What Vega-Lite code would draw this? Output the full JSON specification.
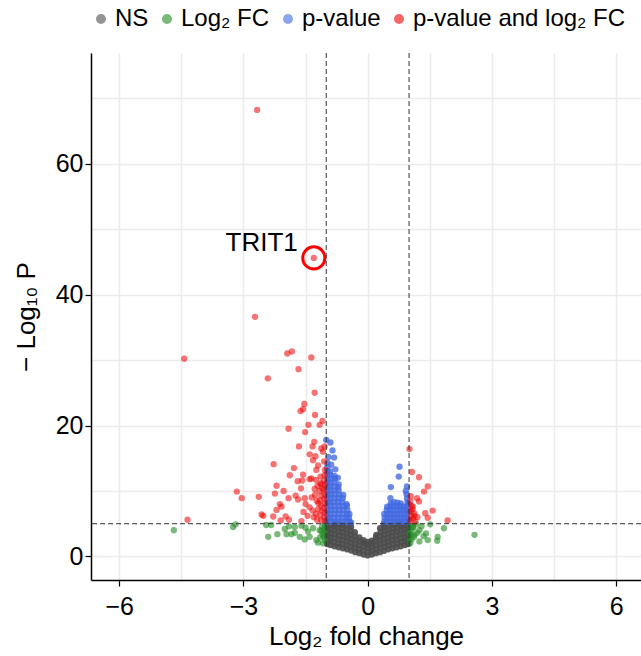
{
"$schema": "https://vega.github.io/schema/vega-lite/v6.json",
"width": 550, "height": 527,
"autosize": "none",
"padding": {"left": 91, "top": 53, "right": 0, "bottom": 76},
"config": {"font": "Liberation Sans", "view": {"stroke": null},
 "axis": {"domainColor": "black", "domainWidth": 1.5, "tickColor": "black", "tickWidth": 1.2, "tickSize": 6, "labelFontSize": 25, "labelColor": "black", "titleFontSize": 26, "titleFontWeight": "normal", "titleColor": "black", "gridColor": "#EBEBEB", "gridWidth": 1.5}},
"datasets": {
"ns": [
{"x":-0.98,"y":1.9},{"x":-0.97,"y":2.5},{"x":-0.98,"y":3.1},{"x":-0.97,"y":3.7},{"x":-0.98,"y":4.3},{"x":-0.97,"y":4.85},
{"x":-0.9,"y":1.75},{"x":-0.91,"y":2.35},{"x":-0.9,"y":2.95},{"x":-0.89,"y":3.55},{"x":-0.9,"y":4.15},{"x":-0.91,"y":4.75},
{"x":-0.8,"y":1.55},{"x":-0.81,"y":2.2},{"x":-0.8,"y":2.8},{"x":-0.79,"y":3.4},{"x":-0.8,"y":4.0},{"x":-0.81,"y":4.6},{"x":-0.8,"y":4.95},
{"x":-0.7,"y":1.4},{"x":-0.71,"y":2.0},{"x":-0.7,"y":2.6},{"x":-0.69,"y":3.2},{"x":-0.7,"y":3.8},{"x":-0.71,"y":4.4},{"x":-0.7,"y":4.9},
{"x":-0.6,"y":1.25},{"x":-0.61,"y":1.9},{"x":-0.6,"y":2.5},{"x":-0.59,"y":3.1},{"x":-0.6,"y":3.7},{"x":-0.61,"y":4.3},{"x":-0.6,"y":4.85},
{"x":-0.5,"y":1.1},{"x":-0.51,"y":1.7},{"x":-0.5,"y":2.3},{"x":-0.49,"y":2.9},{"x":-0.5,"y":3.5},{"x":-0.51,"y":4.1},{"x":-0.5,"y":4.7},
{"x":-0.4,"y":0.9},{"x":-0.41,"y":1.5},{"x":-0.4,"y":2.1},{"x":-0.39,"y":2.7},{"x":-0.4,"y":3.3},{"x":-0.41,"y":3.9},{"x":-0.4,"y":4.5},{"x":-0.42,"y":4.9},
{"x":-0.3,"y":0.65},{"x":-0.31,"y":1.3},{"x":-0.3,"y":1.9},{"x":-0.29,"y":2.5},{"x":-0.3,"y":3.1},{"x":-0.31,"y":3.7},
{"x":-0.2,"y":0.5},{"x":-0.21,"y":1.1},{"x":-0.2,"y":1.7},{"x":-0.19,"y":2.3},{"x":-0.2,"y":2.9},
{"x":-0.1,"y":0.3},{"x":-0.11,"y":0.9},{"x":-0.1,"y":1.5},{"x":-0.09,"y":2.1},{"x":-0.1,"y":2.5},
{"x":0,"y":0.15},{"x":0.01,"y":0.7},{"x":0,"y":1.3},{"x":-0.01,"y":1.8},{"x":0,"y":2.2},
{"x":0.1,"y":0.3},{"x":0.11,"y":0.9},{"x":0.1,"y":1.5},{"x":0.09,"y":2.0},{"x":0.1,"y":2.4},
{"x":0.2,"y":0.5},{"x":0.21,"y":1.1},{"x":0.2,"y":1.7},{"x":0.19,"y":2.3},{"x":0.2,"y":2.9},{"x":0.21,"y":3.3},
{"x":0.3,"y":0.65},{"x":0.31,"y":1.3},{"x":0.3,"y":1.9},{"x":0.29,"y":2.5},{"x":0.3,"y":3.1},{"x":0.31,"y":3.7},{"x":0.3,"y":4.3},
{"x":0.4,"y":0.85},{"x":0.41,"y":1.5},{"x":0.4,"y":2.1},{"x":0.39,"y":2.7},{"x":0.4,"y":3.3},{"x":0.41,"y":3.9},{"x":0.4,"y":4.5},{"x":0.39,"y":4.9},
{"x":0.5,"y":1.1},{"x":0.51,"y":1.7},{"x":0.5,"y":2.3},{"x":0.49,"y":2.9},{"x":0.5,"y":3.5},{"x":0.51,"y":4.1},{"x":0.5,"y":4.7},
{"x":0.6,"y":1.25},{"x":0.61,"y":1.9},{"x":0.6,"y":2.5},{"x":0.59,"y":3.1},{"x":0.6,"y":3.7},{"x":0.61,"y":4.3},{"x":0.6,"y":4.85},
{"x":0.7,"y":1.4},{"x":0.71,"y":2.0},{"x":0.7,"y":2.6},{"x":0.69,"y":3.2},{"x":0.7,"y":3.8},{"x":0.71,"y":4.4},{"x":0.7,"y":4.9},
{"x":0.8,"y":1.55},{"x":0.81,"y":2.2},{"x":0.8,"y":2.8},{"x":0.79,"y":3.4},{"x":0.8,"y":4.0},{"x":0.81,"y":4.6},{"x":0.8,"y":4.95},
{"x":0.9,"y":1.75},{"x":0.91,"y":2.35},{"x":0.9,"y":2.95},{"x":0.89,"y":3.55},{"x":0.9,"y":4.15},{"x":0.91,"y":4.75},
{"x":0.98,"y":1.9},{"x":0.97,"y":2.5},{"x":0.98,"y":3.1},{"x":0.97,"y":3.7},{"x":0.98,"y":4.3},{"x":0.97,"y":4.85}
],
"fc": [
{"x":-4.68,"y":4.0},{"x":-3.25,"y":4.5},{"x":-3.19,"y":4.9},{"x":-2.40,"y":3.0},{"x":-2.18,"y":3.4},{"x":-2.45,"y":4.8},{"x":-2.33,"y":4.8},{"x":-1.96,"y":3.4},{"x":-1.84,"y":3.4},{"x":-1.76,"y":3.6},{"x":-1.64,"y":3.0},{"x":-1.52,"y":2.6},{"x":-1.40,"y":3.0},{"x":-1.24,"y":2.5},{"x":-1.20,"y":2.1},{"x":-1.16,"y":4.0},{"x":-1.60,"y":4.7},{"x":-1.32,"y":4.3},{"x":-1.09,"y":3.3},{"x":-1.44,"y":3.8},{"x":-1.76,"y":4.5},{"x":-1.03,"y":4.8},{"x":-1.05,"y":4.2},{"x":-1.04,"y":3.6},{"x":-1.06,"y":3.0},{"x":-1.03,"y":2.4},{"x":-1.10,"y":4.6},{"x":-1.12,"y":3.9},{"x":-1.15,"y":2.9},{"x":-1.08,"y":2.0},{"x":-1.5,"y":4.4},{"x":-1.9,"y":4.6},{"x":-2.0,"y":4.2},
{"x":1.09,"y":4.5},{"x":1.25,"y":4.0},{"x":1.13,"y":3.3},{"x":1.41,"y":3.5},{"x":1.25,"y":2.3},{"x":1.45,"y":2.5},{"x":1.69,"y":3.0},{"x":1.68,"y":2.4},{"x":1.84,"y":4.3},{"x":1.51,"y":4.9},{"x":2.58,"y":3.3},{"x":1.01,"y":3.5},{"x":1.01,"y":2.5},{"x":1.17,"y":4.9},{"x":1.03,"y":4.7},{"x":1.05,"y":4.0},{"x":1.04,"y":3.3},{"x":1.06,"y":2.6},{"x":1.03,"y":2.0},{"x":1.1,"y":4.4},{"x":1.12,"y":3.0},{"x":1.2,"y":3.6},{"x":1.3,"y":4.6},{"x":1.35,"y":3.1}
],
"pv": [
{"x":-0.98,"y":5.3},{"x":-0.97,"y":5.9},{"x":-0.98,"y":6.5},{"x":-0.97,"y":7.1},{"x":-0.98,"y":7.7},{"x":-0.97,"y":8.3},{"x":-0.98,"y":8.9},{"x":-0.97,"y":9.5},{"x":-0.98,"y":10.1},{"x":-0.97,"y":10.7},{"x":-0.98,"y":11.3},{"x":-0.97,"y":11.9},{"x":-0.98,"y":12.5},{"x":-0.97,"y":13.1},{"x":-0.98,"y":13.6},
{"x":-0.9,"y":5.3},{"x":-0.91,"y":5.9},{"x":-0.9,"y":6.5},{"x":-0.89,"y":7.1},{"x":-0.9,"y":7.7},{"x":-0.91,"y":8.3},{"x":-0.9,"y":8.9},{"x":-0.89,"y":9.5},{"x":-0.9,"y":10.1},{"x":-0.91,"y":10.7},{"x":-0.9,"y":11.3},{"x":-0.89,"y":11.9},{"x":-0.9,"y":12.5},{"x":-0.91,"y":13.0},
{"x":-0.8,"y":5.3},{"x":-0.81,"y":5.9},{"x":-0.8,"y":6.5},{"x":-0.79,"y":7.1},{"x":-0.8,"y":7.7},{"x":-0.81,"y":8.3},{"x":-0.8,"y":8.9},{"x":-0.79,"y":9.5},{"x":-0.8,"y":10.1},{"x":-0.81,"y":10.7},{"x":-0.8,"y":11.3},{"x":-0.79,"y":11.9},{"x":-0.8,"y":12.3},
{"x":-0.7,"y":5.3},{"x":-0.71,"y":5.9},{"x":-0.7,"y":6.5},{"x":-0.69,"y":7.1},{"x":-0.7,"y":7.7},{"x":-0.71,"y":8.3},{"x":-0.7,"y":8.9},{"x":-0.69,"y":9.5},{"x":-0.7,"y":10.1},{"x":-0.71,"y":10.6},{"x":-0.7,"y":11.0},
{"x":-0.6,"y":5.3},{"x":-0.61,"y":5.9},{"x":-0.6,"y":6.5},{"x":-0.59,"y":7.1},{"x":-0.6,"y":7.7},{"x":-0.61,"y":8.3},{"x":-0.6,"y":8.9},{"x":-0.59,"y":9.4},
{"x":-0.5,"y":5.3},{"x":-0.51,"y":5.9},{"x":-0.5,"y":6.5},{"x":-0.49,"y":7.1},{"x":-0.5,"y":7.7},{"x":-0.51,"y":8.0},
{"x":-0.44,"y":5.3},{"x":-0.45,"y":5.9},{"x":-0.44,"y":6.5},{"x":-0.4,"y":5.2},
{"x":-1.0,"y":17.8},{"x":-0.9,"y":17.4},{"x":-0.95,"y":15.2},{"x":-0.81,"y":15.1},{"x":-0.97,"y":14.3},{"x":-0.88,"y":14.0},{"x":-0.78,"y":13.3},{"x":-0.85,"y":16.2},{"x":-0.72,"y":12.0},
{"x":0.4,"y":5.3},{"x":0.41,"y":5.9},{"x":0.4,"y":6.5},
{"x":0.47,"y":5.3},{"x":0.48,"y":5.9},{"x":0.47,"y":6.5},{"x":0.46,"y":7.1},{"x":0.47,"y":7.6},
{"x":0.55,"y":5.3},{"x":0.56,"y":5.9},{"x":0.55,"y":6.5},{"x":0.54,"y":7.1},{"x":0.55,"y":7.7},{"x":0.56,"y":8.1},
{"x":0.63,"y":5.3},{"x":0.64,"y":5.9},{"x":0.63,"y":6.5},{"x":0.62,"y":7.1},{"x":0.63,"y":7.7},{"x":0.64,"y":8.3},
{"x":0.71,"y":5.3},{"x":0.72,"y":5.9},{"x":0.71,"y":6.5},{"x":0.7,"y":7.1},{"x":0.71,"y":7.7},{"x":0.72,"y":8.2},
{"x":0.79,"y":5.3},{"x":0.8,"y":5.9},{"x":0.79,"y":6.5},{"x":0.78,"y":7.1},{"x":0.79,"y":7.7},{"x":0.8,"y":8.1},
{"x":0.87,"y":5.3},{"x":0.88,"y":5.9},{"x":0.87,"y":6.5},{"x":0.86,"y":7.1},{"x":0.87,"y":7.6},
{"x":0.95,"y":5.3},{"x":0.96,"y":5.9},{"x":0.95,"y":6.5},{"x":0.94,"y":7.1},{"x":0.95,"y":7.7},{"x":0.96,"y":8.3},{"x":0.95,"y":8.9},{"x":0.94,"y":9.5},
{"x":0.99,"y":5.6},{"x":0.99,"y":6.8},{"x":0.99,"y":8.0},
{"x":0.77,"y":13.7},{"x":0.75,"y":12.2},{"x":0.56,"y":10.6},{"x":0.55,"y":8.9},{"x":0.95,"y":10.7},{"x":0.92,"y":10.0}
],
"both": [
{"x":-2.67,"y":68.2},{"x":-1.30,"y":45.6},{"x":-2.72,"y":36.6},{"x":-4.43,"y":30.2},{"x":-1.94,"y":31.0},{"x":-1.83,"y":31.3},{"x":-1.36,"y":30.4},{"x":-1.67,"y":28.6},{"x":-2.41,"y":27.2},{"x":-1.28,"y":25.0},{"x":-1.53,"y":23.3},{"x":-1.62,"y":22.2},{"x":-1.56,"y":22.5},{"x":-1.27,"y":21.6},{"x":-1.09,"y":20.7},{"x":-1.43,"y":20.1},{"x":-1.16,"y":20.1},{"x":-1.91,"y":19.5},{"x":-1.51,"y":19.0},{"x":-1.29,"y":17.5},{"x":-1.66,"y":16.8},{"x":-1.33,"y":16.8},{"x":-1.12,"y":16.5},{"x":-1.08,"y":16.0},{"x":-1.40,"y":15.6},{"x":-1.26,"y":15.3},{"x":-1.32,"y":14.7},{"x":-2.27,"y":14.1},{"x":-1.20,"y":13.9},{"x":-1.78,"y":13.5},{"x":-1.24,"y":13.2},{"x":-1.88,"y":12.4},{"x":-1.56,"y":12.5},{"x":-1.36,"y":11.9},{"x":-1.25,"y":11.7},{"x":-1.69,"y":11.5},{"x":-1.58,"y":11.6},{"x":-1.40,"y":11.8},{"x":-1.14,"y":11.2},{"x":-2.20,"y":10.8},{"x":-1.61,"y":10.4},{"x":-1.28,"y":10.3},{"x":-1.10,"y":10.4},{"x":-3.16,"y":9.9},{"x":-2.03,"y":10.0},{"x":-2.24,"y":9.6},{"x":-1.74,"y":9.3},{"x":-1.52,"y":8.9},{"x":-3.04,"y":8.9},{"x":-2.63,"y":9.1},{"x":-1.91,"y":8.9},{"x":-1.68,"y":8.7},{"x":-2.12,"y":8.0},{"x":-2.08,"y":7.6},{"x":-1.40,"y":7.5},{"x":-1.19,"y":8.1},{"x":-2.20,"y":7.1},{"x":-2.56,"y":6.4},{"x":-2.52,"y":6.2},{"x":-2.28,"y":6.1},{"x":-1.98,"y":6.1},{"x":-1.90,"y":5.6},{"x":-2.10,"y":5.5},{"x":-4.35,"y":5.6},
{"x":-1.03,"y":5.4},{"x":-1.05,"y":6.0},{"x":-1.04,"y":6.7},{"x":-1.06,"y":7.4},{"x":-1.03,"y":8.1},{"x":-1.05,"y":8.8},{"x":-1.04,"y":9.5},{"x":-1.06,"y":10.2},{"x":-1.03,"y":10.9},{"x":-1.05,"y":11.6},{"x":-1.04,"y":12.4},{"x":-1.03,"y":13.2},{"x":-1.05,"y":14.5},{"x":-1.04,"y":16.8},
{"x":-1.12,"y":5.5},{"x":-1.14,"y":6.3},{"x":-1.11,"y":7.0},{"x":-1.13,"y":7.8},{"x":-1.15,"y":8.6},{"x":-1.12,"y":9.3},{"x":-1.16,"y":10.0},{"x":-1.12,"y":11.0},{"x":-1.14,"y":12.2},
{"x":-1.22,"y":5.6},{"x":-1.25,"y":6.5},{"x":-1.2,"y":7.2},{"x":-1.23,"y":8.5},{"x":-1.27,"y":9.4},{"x":-1.21,"y":10.8},{"x":-1.3,"y":6.0},{"x":-1.33,"y":7.0},{"x":-1.35,"y":9.0},{"x":-1.45,"y":6.2},{"x":-1.5,"y":8.0},{"x":-1.6,"y":5.4},{"x":-1.55,"y":6.8},
{"x":1.01,"y":16.4},{"x":1.07,"y":12.9},{"x":1.24,"y":12.1},{"x":1.45,"y":10.7},{"x":1.36,"y":9.9},{"x":1.19,"y":8.9},{"x":1.24,"y":8.4},{"x":1.09,"y":7.6},{"x":1.57,"y":7.0},{"x":1.39,"y":6.6},{"x":1.45,"y":5.9},{"x":1.13,"y":6.2},{"x":1.93,"y":5.5},
{"x":1.03,"y":5.4},{"x":1.05,"y":6.1},{"x":1.04,"y":6.9},{"x":1.06,"y":7.7},{"x":1.03,"y":8.4},{"x":1.1,"y":5.8},{"x":1.12,"y":6.6},{"x":1.08,"y":7.2},{"x":1.15,"y":5.3},{"x":1.2,"y":6.0},{"x":1.04,"y":9.2}
],
"vl": [{"x":-1},{"x":1}],
"hl": [{"y":5}],
"lab": [{"x":-1.30,"y":45.6,"label":"TRIT1"}]
},
"layer": [
{"data": {"name": "ns"}, "mark": {"type": "circle", "size": 40, "opacity": 0.9},
 "encoding": {
  "x": {"field": "x", "type": "quantitative", "title": "Log₂ fold change", "scale": {"domain": [-6.68, 6.6], "nice": false, "zero": false},
   "axis": {"values": [-6,-4.5,-3,-1.5,0,1.5,3,4.5,6], "labelExpr": "datum.value % 3 == 0 ? datum.label : ''", "tickOpacity": {"condition": {"test": "datum.value % 3 != 0", "value": 0}, "value": 1}, "labelPadding": 8, "titlePadding": 4}},
  "y": {"field": "y", "type": "quantitative", "title": "− Log₁₀ P", "scale": {"domain": [-3.6, 76.9], "nice": false, "zero": false},
   "axis": {"values": [0,10,20,30,40,50,60,70], "labelExpr": "datum.value % 20 == 0 ? datum.label : ''", "tickOpacity": {"condition": {"test": "datum.value % 20 != 0", "value": 0}, "value": 1}, "labelPadding": 2, "titlePadding": 16}},
  "color": {"datum": "NS", "type": "nominal", "scale": {"domain": ["NS", "Log₂ FC", "p-value", "p-value and log₂ FC"], "range": ["#4D4D4D", "#228B22", "#4169E1", "#EE0000"]},
   "legend": {"title": null, "orient": "none", "direction": "horizontal", "legendX": -2, "legendY": -46, "symbolType": "circle", "symbolSize": 100, "symbolOpacity": 0.5, "symbolStrokeWidth": 0, "labelFontSize": 24, "labelColor": "black", "labelOffset": 2, "labelLimit": 0, "columnPadding": 6}}
 }},
{"data": {"name": "fc"}, "mark": {"type": "circle", "size": 40, "opacity": 0.6},
 "encoding": {
  "x": {"field": "x", "type": "quantitative", "title": "Log₂ fold change", "scale": {"domain": [-6.68, 6.6], "nice": false, "zero": false}},
  "y": {"field": "y", "type": "quantitative", "title": "− Log₁₀ P", "scale": {"domain": [-3.6, 76.9], "nice": false, "zero": false}},
  "color": {"datum": "Log₂ FC", "type": "nominal"}}},
{"data": {"name": "pv"}, "mark": {"type": "circle", "size": 40, "opacity": 0.78},
 "encoding": {
  "x": {"field": "x", "type": "quantitative", "title": "Log₂ fold change", "scale": {"domain": [-6.68, 6.6], "nice": false, "zero": false}},
  "y": {"field": "y", "type": "quantitative", "title": "− Log₁₀ P", "scale": {"domain": [-3.6, 76.9], "nice": false, "zero": false}},
  "color": {"datum": "p-value", "type": "nominal"}}},
{"data": {"name": "both"}, "mark": {"type": "circle", "size": 40, "opacity": 0.55},
 "encoding": {
  "x": {"field": "x", "type": "quantitative", "title": "Log₂ fold change", "scale": {"domain": [-6.68, 6.6], "nice": false, "zero": false}},
  "y": {"field": "y", "type": "quantitative", "title": "− Log₁₀ P", "scale": {"domain": [-3.6, 76.9], "nice": false, "zero": false}},
  "color": {"datum": "p-value and log₂ FC", "type": "nominal"}}},
{"data": {"name": "vl"}, "mark": {"type": "rule", "strokeDash": [5, 3], "color": "#333333", "strokeWidth": 1},
 "encoding": {"x": {"field": "x", "type": "quantitative", "title": "Log₂ fold change", "scale": {"domain": [-6.68, 6.6], "nice": false, "zero": false}}}},
{"data": {"name": "hl"}, "mark": {"type": "rule", "strokeDash": [5, 3], "color": "#333333", "strokeWidth": 1},
 "encoding": {"y": {"field": "y", "type": "quantitative", "title": "− Log₁₀ P", "scale": {"domain": [-3.6, 76.9], "nice": false, "zero": false}}}},
{"data": {"name": "lab"}, "mark": {"type": "point", "shape": "circle", "filled": false, "size": 490, "stroke": "#FF0000", "strokeWidth": 3, "opacity": 1},
 "encoding": {
  "x": {"field": "x", "type": "quantitative", "title": "Log₂ fold change", "scale": {"domain": [-6.68, 6.6], "nice": false, "zero": false}},
  "y": {"field": "y", "type": "quantitative", "title": "− Log₁₀ P", "scale": {"domain": [-3.6, 76.9], "nice": false, "zero": false}}}},
{"data": {"name": "lab"}, "mark": {"type": "text", "align": "right", "baseline": "alphabetic", "dx": -16, "dy": -7, "fontSize": 26, "color": "black"},
 "encoding": {
  "x": {"field": "x", "type": "quantitative", "title": "Log₂ fold change", "scale": {"domain": [-6.68, 6.6], "nice": false, "zero": false}},
  "y": {"field": "y", "type": "quantitative", "title": "− Log₁₀ P", "scale": {"domain": [-3.6, 76.9], "nice": false, "zero": false}},
  "text": {"field": "label"}}}
]
}
